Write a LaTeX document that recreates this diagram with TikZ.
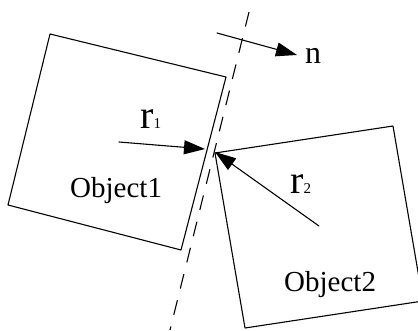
\documentclass[tikz,border=0pt]{standalone}
\usepackage{fontspec}
\setmainfont{Liberation Serif}
\usetikzlibrary{arrows.meta}

\begin{document}
\begin{tikzpicture}[x=1pt,y=-1pt,line cap=round,line join=round,
  >={Triangle[length=21pt,width=14pt]},
  body/.style={line width=1.1pt},
  vec/.style={->,line width=1.1pt},
  contact/.style={line width=1.1pt,line cap=butt,dash pattern=on 15pt off 12pt},
  lbl/.style={anchor=base west,inner sep=0pt,font=\fontsize{29}{29}\selectfont},
  vlbl/.style={lbl,font=\fontsize{40}{40}\selectfont}]
 \useasboundingbox (0,0) rectangle (418,330);
 \clip (0,0) rectangle (418,330);
 % the two bodies
 \draw[body] (50,34) -- (226,77) -- (181,250) -- (8,205) -- cycle;
 \draw[body] (215,153) -- (393,126) -- (423,301) -- (245,328) -- cycle;
 % tangent plane at the contact
 \coordinate (planetop) at (249,12);
 \coordinate (planebot) at (170,330);
 \draw[contact] (planetop) -- (planebot);
 % contact points and vector tails
 \coordinate (p1) at (205,149);
 \coordinate (p2) at (215,152);
 \coordinate (r1tail) at (119,142);
 \coordinate (r2tail) at (319,226);
 \coordinate (ntail) at (217,33);
 \coordinate (nhead) at (297,55);
 \draw[vec] (r1tail) -- (p1);
 \draw[vec] (r2tail) -- (p2);
 \draw[vec] (ntail) -- (nhead);
 % labels
 \node[lbl] (obj1) at (70,197) {Object1};
 \node[lbl] (obj2) at (284,291) {Object2};
 \node[vlbl] (r1) at (140,128) {r{\fontsize{15}{15}\selectfont 1}};
 \node[vlbl] (r2) at (290,193) {r{\fontsize{15}{15}\selectfont 2}};
 \node[lbl,font=\fontsize{32}{32}\selectfont] (n) at (305,63) {n};
\end{tikzpicture}
\end{document}
